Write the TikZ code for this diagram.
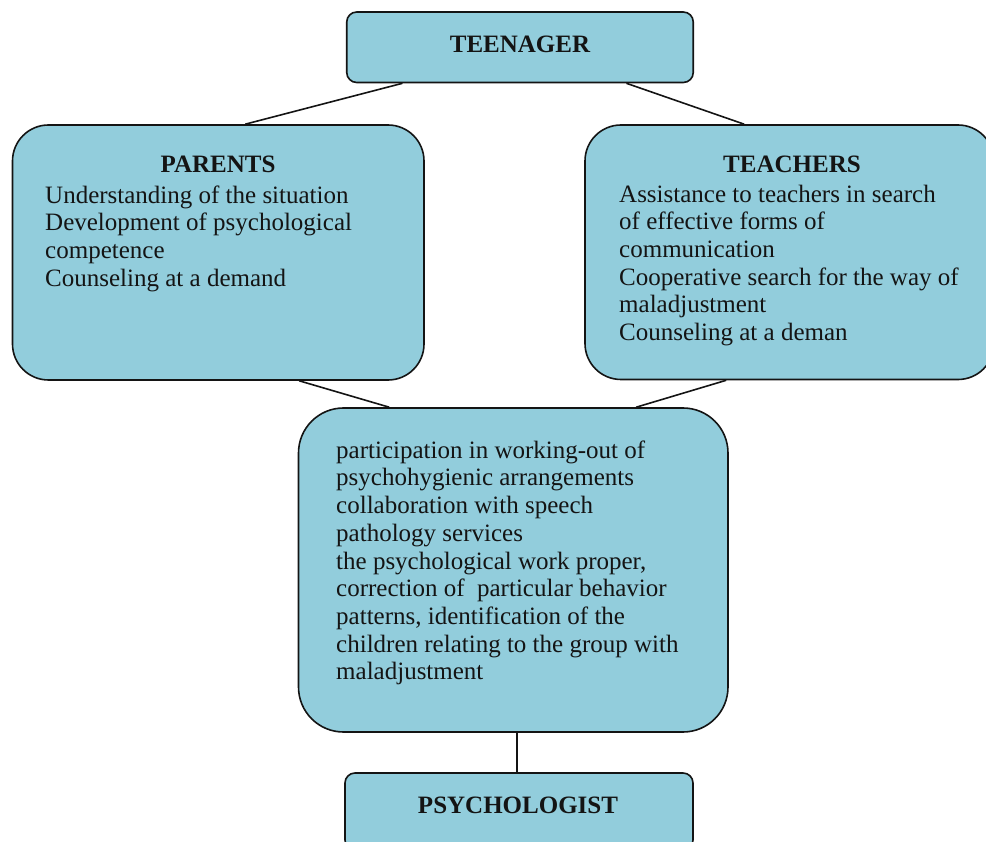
\documentclass[tikz,border=0pt]{standalone}
\usepackage{fontspec}
\setmainfont{Liberation Serif}
\definecolor{boxblue}{HTML}{92CDDC}
\definecolor{inkdark}{HTML}{141414}
\begin{document}
\begin{tikzpicture}[x=1pt, y=-1pt,
  box/.style={draw=inkdark, line width=1.6pt, fill=boxblue, inner sep=0pt,
              rounded corners=#1},
  box/.default=10pt,
  link/.style={draw=inkdark, line width=1.6pt},
  heading/.style={anchor=base, inner sep=0pt, text=inkdark,
                  font=\fontsize{25}{28}\selectfont\bfseries},
  body/.style={anchor=north west, inner sep=0pt, align=left, text=inkdark,
               font=\fontsize{25}{27.7}\selectfont}
]
\useasboundingbox (0,0) rectangle (986,842);
\clip (0,0) rectangle (986,842);

% boxes
\node[box=10pt, minimum width=346.5pt, minimum height=70.5pt] (teen) at (520,47.25) {};
\node[box=36pt, minimum width=411.5pt, minimum height=255pt] (parents) at (218.25,252.5) {};
\node[box=36pt, minimum width=409pt, minimum height=254.5pt] (teachers) at (789.5,252.25) {};
\node[box=45pt, minimum width=429.5pt, minimum height=324pt] (mid) at (513.25,570) {};
\node[box=10pt, minimum width=348pt, minimum height=77pt] (psych) at (519,811.5) {};

% connectors
\draw[link] ([xshift=56.5pt]teen.south west) -- ([xshift=233.5pt]parents.north west);
\draw[link] ([xshift=280.5pt]teen.south west) -- ([xshift=160pt]teachers.north west);
\draw[link] ([xshift=287.5pt]parents.south west) -- ([xshift=91.5pt]mid.north west);
\draw[link] ([xshift=142pt]teachers.south west) -- ([xshift=338.5pt]mid.north west);
\draw[link] ([xshift=219.5pt]mid.south west) -- ([xshift=173pt]psych.north west);

% headings
\node[heading] (teenlabel) at (520,53) {TEENAGER};
\node[heading] (parentslabel) at (218,173) {PARENTS};
\node[heading] (teacherslabel) at (792,173) {TEACHERS};
\node[heading] (psychlabel) at (518,813) {PSYCHOLOGIST};

% item lists
\node[body] (parentstext) at (45,185) {\rule{0pt}{18pt}Understanding of the situation\\
  Development of psychological\\
  competence\\
  Counseling at a demand};
\node[body] (teacherstext) at (619,184) {\rule{0pt}{18pt}Assistance to teachers in search\\
  of effective forms of\\
  communication\\
  Cooperative search for the way of\\
  maladjustment\\
  Counseling at a deman};
\node[body] (midtext) at (336,440) {\rule{0pt}{18pt}participation in working-out of\\
  psychohygienic arrangements\\
  collaboration with speech\\
  pathology services\\
  the psychological work proper,\\
  correction of\ \ particular behavior\\
  patterns, identification of the\\
  children relating to the group with\\
  maladjustment};
\end{tikzpicture}
\end{document}
